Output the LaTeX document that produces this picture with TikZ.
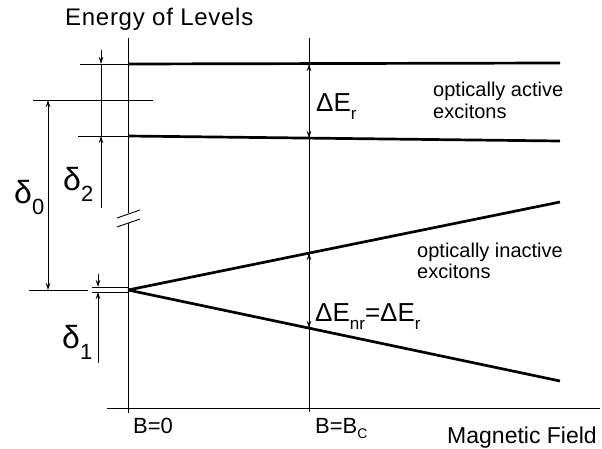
\documentclass[tikz,border=0pt]{standalone}
\usepackage{fontspec}
\setmainfont{Liberation Sans}
\usetikzlibrary{arrows.meta}
\begin{document}
\begin{tikzpicture}[x=1pt,y=-1pt,
  thinl/.style={line width=0.9pt},
  level/.style={line width=2.7pt},
  tip/.style={-{Stealth[length=7pt,width=4.5pt]}, line width=0.9pt},
  dtip/.style={{Stealth[length=7pt,width=4.5pt]}-{Stealth[length=7pt,width=4.5pt]}, line width=0.9pt},
  lbl/.style={inner sep=0pt, anchor=base west, font=\fontsize{20}{22}\selectfont},
  big/.style={inner sep=0pt, anchor=base west}]
\useasboundingbox (0,0) rectangle (602,449);
\fill[white] (0,0) rectangle (602,449);
% key points
\coordinate (O) at (128,290);
\coordinate (L1a) at (128,64);  \coordinate (L1b) at (560,63);
\coordinate (L2a) at (128,136); \coordinate (L2b) at (560,141);
\coordinate (Ub) at (560,202);  \coordinate (Db) at (560,381);
% axes
\coordinate (Vt) at (128,38); \coordinate (Vm1) at (128,213);
\coordinate (Vm2) at (128,223); \coordinate (Vb) at (128,413);
\draw[thinl] (Vt) -- (Vm1);
\draw[thinl] (Vm2) -- (Vb);
\coordinate (s1a) at (117,218); \coordinate (s1b) at (140,210);
\coordinate (s2a) at (117,227); \coordinate (s2b) at (140,219);
\draw[thinl] (s1a) -- (s1b);
\draw[thinl] (s2a) -- (s2b);
\coordinate (Ht) at (107,408); \coordinate (Hb) at (600,408);
\draw[thinl] (Ht) -- (Hb);
\coordinate (Ct) at (309,38); \coordinate (Cb) at (309,412);
\draw[thinl] (Ct) -- (Cb);
% levels
\draw[level] (L1a) -- (L1b);
\draw[level] (L2a) -- (L2b);
\draw[level] (O) -- (Ub);
\draw[level] (O) -- (Db);
% thin extension lines
\coordinate (e1) at (80,64);  \draw[thinl] (e1) -- (L1a);
\coordinate (e2a) at (33,100); \coordinate (e2b) at (153,100); \draw[thinl] (e2a) -- (e2b);
\coordinate (e3) at (78,136); \draw[thinl] (e3) -- (L2a);
\coordinate (e4a) at (29,290); \coordinate (e4b) at (88,290); \draw[thinl] (e4a) -- (e4b);
\coordinate (e5a) at (92,287); \coordinate (e5b) at (128,287); \draw[thinl] (e5a) -- (e5b);
\coordinate (e6a) at (92,292); \coordinate (e6b) at (128,292); \draw[thinl] (e6a) -- (e6b);
% delta2 arrows
\coordinate (d2t) at (101,50); \coordinate (d2a) at (101,64);
\coordinate (d2b) at (101,136); \coordinate (d2e) at (101,208);
\draw[tip] (d2t) -- (d2a);
\draw[thinl] (d2a) -- (d2b);
\draw[tip] (d2e) -- (d2b);
% delta0 arrow
\coordinate (d0a) at (48,100); \coordinate (d0b) at (48,290);
\draw[dtip] (d0a) -- (d0b);
% delta1 arrows
\coordinate (d1t) at (98,274); \coordinate (d1a) at (98,287);
\coordinate (d1b) at (98,292); \coordinate (d1e) at (98,363);
\draw[tip] (d1t) -- (d1a);
\draw[tip] (d1e) -- (d1b);
% Delta E arrows
\coordinate (r1) at (309,64); \coordinate (r2) at (309,138);
\draw[dtip] (r1) -- (r2);
\coordinate (n1) at (309,253); \coordinate (n2) at (309,328);
\draw[dtip] (n1) -- (n2);
% texts
\node[lbl, font=\fontsize{24}{26}\selectfont\addfontfeature{LetterSpace=3}] (tE) at (65,26) {Energy of Levels};
\node[lbl, font=\fontsize{23}{25}\selectfont, anchor=base east] (tM) at (597,443) {Magnetic Field};
\node[lbl, font=\fontsize{22}{24}\selectfont] (tB0) at (133,433) {B=0};
\node[lbl, font=\fontsize{22}{24}\selectfont] (tBc) at (315,433) {B=B\raisebox{-5pt}{\fontsize{14}{14}\selectfont C}};
\node[lbl] (ta1) at (433,97) {optically active};
\node[lbl] (ta2) at (433,119) {excitons};
\node[lbl] (ti1) at (417,257) {optically inactive};
\node[lbl] (ti2) at (417,278) {excitons};
\node[big] (tEr) at (316,112) {\fontsize{26}{26}\selectfont ΔE\raisebox{-8pt}{\fontsize{17}{17}\selectfont r}};
\node[big] (tEnr) at (315,321) {\fontsize{26}{26}\selectfont ΔE\raisebox{-8pt}{\fontsize{17}{17}\selectfont nr}=ΔE\raisebox{-8pt}{\fontsize{17}{17}\selectfont r}};
\node[big] (td0) at (14,204) {\fontsize{32}{32}\selectfont δ\raisebox{-11pt}{\fontsize{22}{22}\selectfont 0}};
\node[big] (td2) at (63,191) {\fontsize{32}{32}\selectfont δ\raisebox{-11pt}{\fontsize{22}{22}\selectfont 2}};
\node[big] (td1) at (62,348) {\fontsize{32}{32}\selectfont δ\raisebox{-11pt}{\fontsize{22}{22}\selectfont 1}};
\end{tikzpicture}
\end{document}
